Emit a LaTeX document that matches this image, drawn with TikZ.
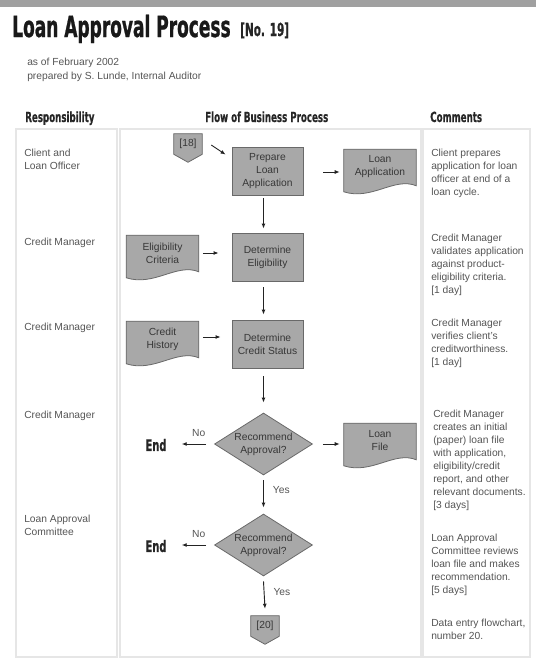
\documentclass[tikz,border=0pt]{standalone}
\usepackage{fontspec}
\setmainfont{Liberation Sans}
\newfontfamily\headfont[FakeStretch=0.62,FakeBold=0.6]{DejaVu Sans Bold}
\newfontfamily\titlefont[FakeStretch=0.58,FakeBold=0.8]{DejaVu Sans Bold}
\usetikzlibrary{arrows.meta,shapes.geometric,backgrounds}

\definecolor{barGray}{RGB}{160,160,160}
\definecolor{boxFill}{RGB}{168,168,168}
\definecolor{boxLine}{RGB}{105,105,105}
\definecolor{frameGray}{RGB}{230,230,230}
\definecolor{bodyText}{RGB}{85,85,85}
\definecolor{inkText}{RGB}{55,55,55}
\definecolor{arrowInk}{RGB}{35,35,35}

\newcommand\txtsize{\fontsize{7.7}{9.75}\selectfont}

% document symbol: flat top, wavy bottom edge
\newcommand\docpath[1]{%
  \path[shapefill] (#1.north west) -- (#1.north east) -- ([shift={(0,1)}]#1.south east)
    .. controls ([shift={(-22,-8)}]#1.south east) and ([shift={(28,16)}]#1.south west)
    .. ([shift={(0,7)}]#1.south west) -- cycle;}
% off-page connector: box with a point underneath
\newcommand\offpage[1]{%
  \path[shapefill] (#1.north west) -- (#1.north east) -- (#1.south east)
    -- ([shift={(0,8)}]#1.south) -- (#1.south west) -- cycle;}

\tikzset{
  shapefill/.style={fill=boxFill, draw=boxLine, line width=0.6pt},
  procbox/.style={rectangle, shapefill, minimum width=53.25pt, minimum height=36pt,
    inner sep=0, align=center, font=\txtsize, text=inkText},
  decision/.style={diamond, aspect=1.58, shapefill, minimum width=73.5pt,
    minimum height=46.5pt, inner sep=0, align=center, font=\txtsize, text=inkText},
  docnode/.style={rectangle, minimum width=54pt, minimum height=26.25pt,
    inner sep=0, align=center, font=\txtsize, text=inkText},
  connnode/.style={rectangle, minimum width=21pt, minimum height=15pt,
    inner sep=0, font=\txtsize, text=inkText},
  endlabel/.style={inner sep=0, font=\headfont\fontsize{12}{14}\selectfont, text=black!85},
  coltext/.style={anchor=north west, inner sep=0, align=left, font=\txtsize, text=bodyText},
  header/.style={anchor=base west, inner sep=0, font=\headfont\fontsize{10.5}{12}\selectfont, text=black!85},
  lbl/.style={inner sep=0, font=\txtsize, text=bodyText},
  arr/.style={draw=arrowInk, line width=0.7pt, -{Latex[length=3.75pt,width=3pt]}},
  frame/.style={draw=frameGray, line width=1.2pt}
}

\begin{document}
\begin{tikzpicture}[x=0.75pt,y=-0.75pt]
\useasboundingbox (0,0) rectangle (536,661);

% top band
\fill[barGray] (0,0) rectangle (536,7);

% title block
\node[anchor=base west, inner sep=0, font=\titlefont\fontsize{22}{26}\selectfont, text=black!90] (title) at (12,37) {Loan Approval Process};
\node[anchor=base west, inner sep=0, font=\titlefont\fontsize{13.5}{15}\selectfont, text=black!85] (number) at (240,36) {[No. 19]};
\node[coltext, font=\fontsize{7.7}{10.5}\selectfont] (meta) at (27,58) {as of February 2002\\prepared by S. Lunde, Internal Auditor};

% column headings
\node[header] (hresp) at (25,122) {Responsibility};
\node[header] (hflow) at (205,122) {Flow of Business Process};
\node[header] (hcomm) at (430,122) {Comments};

% column frames
\draw[frame] (16,129) rectangle (117,657);
\draw[frame] (120,129) rectangle (421,657);
\draw[frame] (423,129) rectangle (530,657);

% responsibility column
\node[coltext] (resp1) at (24,149) {Client and\\Loan Officer};
\node[coltext] (resp2) at (24,238) {Credit Manager};
\node[coltext] (resp3) at (24,323) {Credit Manager};
\node[coltext] (resp4) at (24,411) {Credit Manager};
\node[coltext] (resp5) at (24,515) {Loan Approval\\Committee};

% comments column
\node[coltext] (comm1) at (431,149) {Client prepares\\application for loan\\officer at end of a\\loan cycle.};
\node[coltext] (comm2) at (431,234) {Credit Manager\\validates application\\against product-\\eligibility criteria.\\{}[1 day]};
\node[coltext] (comm3) at (431,319) {Credit Manager\\verifies client's\\creditworthiness.\\{}[1 day]};
\node[coltext] (comm4) at (433,410) {Credit Manager\\creates an initial\\(paper) loan file\\with application,\\eligibility/credit\\report, and other\\relevant documents.\\{}[3 days]};
\node[coltext] (comm5) at (431,534) {Loan Approval\\Committee reviews\\loan file and makes\\recommendation.\\{}[5 days]};
\node[coltext] (comm6) at (431,619) {Data entry flowchart,\\number 20.};

% process flow
\node[connnode] (c18) at (188,144) {[18]};
\node[procbox] (prep) at (267.5,171) {Prepare\\Loan\\Application};
\node[docnode] (lapp) at (380,167) {Loan\\Application};
\node[procbox] (elig) at (267.5,257) {Determine\\Eligibility};
\node[docnode] (crit) at (162.5,253) {Eligibility\\Criteria};
\node[procbox] (cred) at (267.5,344) {Determine\\Credit Status};
\node[docnode] (hist) at (162.5,339) {Credit\\History};
\node[decision] (dec1) at (263.5,444) {Recommend\\Approval?};
\node[docnode] (lfile) at (380,441) {Loan\\File};
\node[endlabel] (end1) at (156,445) {End};
\node[decision] (dec2) at (263.5,545) {Recommend\\Approval?};
\node[endlabel] (end2) at (156,546) {End};
\node[connnode] (c20) at (265,626) {[20]};

\begin{scope}[on background layer]
  \offpage{c18}
  \offpage{c20}
  \docpath{lapp}
  \docpath{crit}
  \docpath{hist}
  \docpath{lfile}
\end{scope}

% connectors
\draw[arr] ([shift={(9,1)}]c18.east) -- ([shift={(-6,8)}]prep.north west);
\draw[arr] ([shift={(20,1)}]prep.east) -- ([shift={(-4,5)}]lapp.west);
\draw[arr] ([shift={(-4,3)}]prep.south) -- ([shift={(-4,-4)}]elig.north);
\draw[arr] ([shift={(4,0)}]crit.east) -- ([shift={(-13,-4)}]elig.west);
\draw[arr] ([shift={(-4,6)}]elig.south) -- ([shift={(-4,-5)}]cred.north);
\draw[arr] ([shift={(4,-2)}]hist.east) -- ([shift={(-11,-7)}]cred.west);
\draw[arr] ([shift={(-4,8)}]cred.south) -- ([shift={(0,-10)}]dec1.north);
\draw[arr] ([shift={(-8,0)}]dec1.west) -- ([shift={(15,-1)}]end1.east)
  node[lbl, pos=0.3, above=5.25pt] (no1) {No};
\draw[arr] ([shift={(10,0)}]dec1.east) -- ([shift={(-4,3)}]lfile.west);
\draw[arr] ([shift={(0,5)}]dec1.south) -- ([shift={(0,-6)}]dec2.north)
  node[lbl, pos=0.37, right=6.75pt] (yes1) {Yes};
\draw[arr] ([shift={(-8,0)}]dec2.west) -- ([shift={(15,-1)}]end2.east)
  node[lbl, pos=0.3, above=5.25pt] (no2) {No};
\draw[arr] ([shift={(0,5)}]dec2.south) -- ([shift={(0,-7)}]c20.north)
  node[lbl, pos=0.39, right=6.75pt] (yes2) {Yes};
\end{tikzpicture}
\end{document}
